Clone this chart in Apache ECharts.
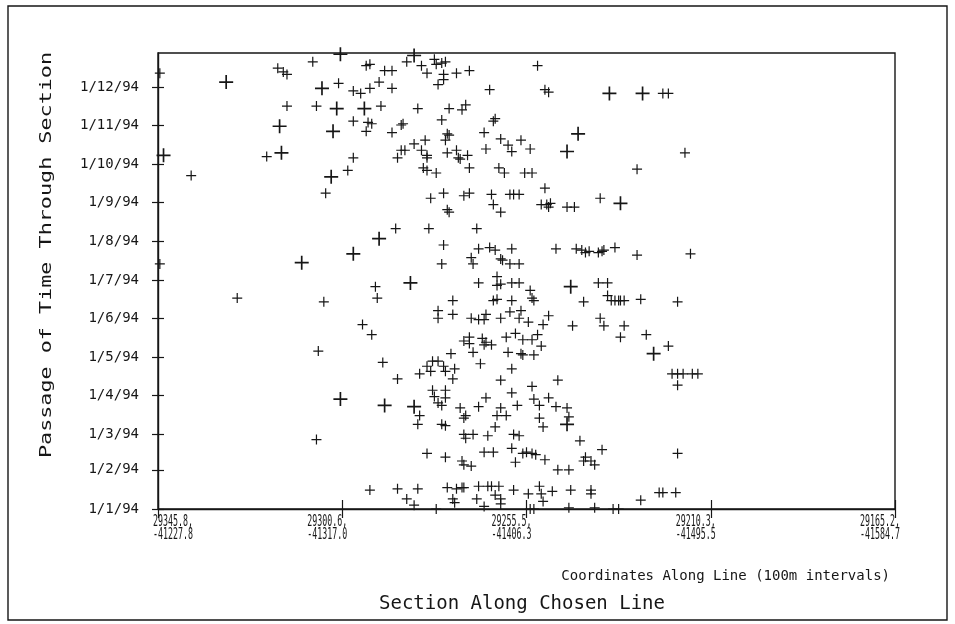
<!DOCTYPE html>
<html>
<head>
<meta charset="utf-8">
<script src="https://cdn.jsdelivr.net/npm/echarts@6/dist/echarts.min.js"></script>
<style>
  html, body { margin: 0; padding: 0; background: #ffffff; }
  #chart { width: 955px; height: 624px; }
</style>
</head>
<body>
<div id="chart"></div>
<script>
// Grid coordinates of each 100 m station along the chosen line
const distanceTicks = [0, 100, 200, 300, 400];
const eastings  = ['29345.8', '29300.6', '29255.5', '29210.3', '29165.2'];
const northings = ['-41227.8', '-41317.0', '-41406.3', '-41495.5', '-41584.7'];

// First day of each month in 1994 (day of year) and its label
const monthStartDays = [0, 31, 59, 90, 120, 151, 181, 212, 243, 273, 304, 334];
const monthLabels = ['1/1/94', '1/2/94', '1/3/94', '1/4/94', '1/5/94', '1/6/94',
                     '1/7/94', '1/8/94', '1/9/94', '1/10/94', '1/11/94', '1/12/94'];
const lastDay = 361;

// Observations: [distance along line (m), day of year 1994]
const crossesSmall = [
  [1,345],[65,349],[68,346],[70,344],[84,354],[113,351],[115,352],[123,347],[127,347],
  [98,337],[106,331],[110,329],[115,333],[120,338],[127,333],[70,319],[86,319],[121,319],
  [106,307],[114,306],[116,305],[113,299],[127,298],[59,279],[18,264],[106,278],[130,278],
  [103,268],[91,250],[129,222],[1,194],
  [135,354],[143,351],[146,345],[150,356],[151,352],[154,353],[156,354],[155,344],[162,345],
  [169,347],[152,336],[155,340],[206,351],[180,332],[210,332],[212,330],[274,329],[277,329],
  [141,317],[158,317],[165,316],[167,320],[154,308],[132,304],[133,305],[182,307],[183,309],
  [177,298],[157,297],[158,296],[156,292],[186,293],[190,288],[192,283],[197,292],[202,285],
  [145,292],[139,289],[132,284],[134,284],[143,284],[146,278],[146,280],[157,282],[162,284],
  [164,277],[163,278],[168,280],[178,285],[169,270],[144,270],[146,268],[151,266],[185,270],
  [188,266],[199,266],[203,266],[260,269],[148,246],[155,250],[166,248],[169,250],[181,249],
  [182,241],[186,235],[191,249],[193,249],[196,249],[210,254],[208,241],[211,241],[213,242],
  [212,239],[222,239],[226,239],[240,246],[157,237],[158,235],[147,222],[173,222],[155,209],
  [154,194],[170,199],[171,194],[174,206],[180,207],[183,205],[186,198],[187,197],[191,194],
  [196,194],[192,206],[216,206],[227,206],[230,205],[232,203],[234,204],[239,203],[241,204],
  [242,205],[248,207],[260,201],[286,282],[289,202],
  [43,167],[90,164],[118,176],[119,167],[111,146],[116,138],[87,125],[122,116],[130,103],
  [86,55],[115,15],[130,16],
  [174,179],[184,184],[184,177],[186,178],[192,179],[196,179],[202,173],[204,165],[203,167],
  [239,179],[244,179],[244,169],[246,165],[248,165],[250,165],[251,165],[253,165],[262,166],
  [231,164],[160,165],[182,165],[184,166],[192,165],[152,157],[152,151],[160,154],[170,151],
  [174,150],[177,150],[178,154],[186,151],[191,156],[197,157],[196,151],[201,148],[212,153],
  [209,146],[225,145],[240,151],[242,145],[253,145],[251,136],[265,138],[166,133],[169,136],
  [169,131],[176,135],[178,132],[177,130],[181,130],[189,136],[194,139],[198,134],[203,134],
  [206,138],[208,129],[159,123],[171,124],[190,124],[198,122],[197,123],[204,122],[175,115],
  [192,111],[149,117],[146,113],[142,107],[148,109],[152,117],[155,113],[156,109],[161,111],
  [160,103],[186,102],[217,102],[203,97],[192,92],[178,88],[149,94],[150,89],[156,94],
  [156,88],[152,84],[154,82],[204,87],[207,82],[212,88],[195,82],[142,74],[141,67],
  [164,80],[167,74],[166,72],[174,81],[184,74],[186,80],[189,74],[183,65],[207,72],
  [209,65],[216,81],[222,80],[223,73],[154,67],[156,66],[166,59],[167,56],[171,59],
  [179,58],[193,59],[196,58],[229,54],[177,45],[182,45],[192,48],[146,44],[156,41],
  [198,44],[200,45],[203,44],[205,43],[210,39],[194,37],[165,38],[166,35],[170,34],
  [217,31],[223,31],[232,41],[231,38],[235,38],[237,35],[241,47],
  [141,16],[135,8],[139,3],[151,0],[157,17],[162,16],[165,17],[166,17],[160,8],
  [161,5],[173,8],[177,2],[174,18],[179,18],[181,18],[185,18],[183,11],[186,8],
  [186,4],[193,15],[201,12],[207,18],[208,12],[209,6],[202,0],[204,0],[214,14],
  [224,15],[235,15],[235,12],[223,1],[237,1],[247,0],[250,0],[262,7],
  [282,164],[277,129],[279,107],[282,107],[285,107],[290,107],[293,107],[282,98],[282,44],
  [272,13],[274,13],[281,13]
];

const crossesLarge = [
  [37,338],[99,360],[89,333],[97,317],[112,317],[66,303],[95,299],[67,282],[3,280],
  [94,263],[120,214],[106,202],[78,195],[139,359],[245,329],[263,329],[228,297],[222,283],
  [251,242],[99,87],[123,82],[137,179],[224,176],[139,81],[222,67],[269,123]
];

// Thin plus-shaped marker
const CROSS = 'path://M8.8,0H11.2V8.8H20V11.2H11.2V20H8.8V11.2H0V8.8H8.8Z';
const INK = '#161616';
const MONO = '"DejaVu Sans Mono", "Liberation Mono", monospace';

const chart = echarts.init(document.getElementById('chart'), null, { renderer: 'canvas' });

chart.setOption({
  animation: false,
  backgroundColor: '#ffffff',
  grid: {
    left: 158, top: 53, width: 737, height: 456,
    show: true, borderColor: INK, borderWidth: 1.4, backgroundColor: 'transparent'
  },
  xAxis: [
    {
      type: 'value', min: 0, max: 400, interval: 100, position: 'bottom',
      axisLine: { onZero: false, lineStyle: { color: INK, width: 1.4 } },
      axisTick: { length: 9, lineStyle: { color: INK, width: 1.2 } },
      splitLine: { show: false },
      axisLabel: { show: false }
    },
    {
      type: 'value', min: 0, max: 400, interval: 100, position: 'bottom', offset: 0,
      axisLine: { show: false },
      axisTick: { inside: true, length: 9, lineStyle: { color: INK, width: 1.2 } },
      axisLabel: { show: false },
      splitLine: { show: false }
    }
  ],
  yAxis: [
    {
      type: 'value', min: 0, max: lastDay, position: 'left',
      axisLine: { onZero: false, lineStyle: { color: INK, width: 1.4 } },
      axisTick: { customValues: monthStartDays, length: 6, lineStyle: { color: INK, width: 1.2 } },
      splitLine: { show: false },
      axisLabel: {
        customValues: monthStartDays, margin: 19, color: INK, fontFamily: MONO, fontSize: 14,
        formatter: v => {
          const i = monthStartDays.indexOf(v);
          return i < 0 ? '' : monthLabels[i];
        }
      }
    },
    {
      type: 'value', min: 0, max: lastDay, position: 'left', offset: 0,
      axisLine: { show: false },
      axisTick: { customValues: monthStartDays, inside: true, length: 6, lineStyle: { color: INK, width: 1.2 } },
      axisLabel: { show: false },
      splitLine: { show: false }
    }
  ],
  series: [
    {
      type: 'scatter', xAxisIndex: 0, yAxisIndex: 0, data: crossesSmall,
      symbol: CROSS, symbolSize: 10, itemStyle: { color: INK, opacity: 1 }, silent: true
    },
    {
      type: 'scatter', xAxisIndex: 0, yAxisIndex: 0, data: crossesLarge,
      symbol: CROSS, symbolSize: 14, itemStyle: { color: INK, opacity: 1 }, silent: true
    }
  ]
});

// Station labels: narrow two-line coordinate pairs hung under each tick.
// The first sits to the right of its tick, the rest end just past theirs.
const stationLabels = distanceTicks.map((v, i) => {
  const px = chart.convertToPixel({ xAxisIndex: 0 }, v);
  return {
    type: 'text', id: 'station' + i,
    x: i === 0 ? px - 5 : px + 5, y: 515, scaleX: 0.52,
    style: {
      text: eastings[i] + ',\n' + northings[i], font: '16px ' + MONO, lineHeight: 13,
      fill: INK, align: i === 0 ? 'left' : 'right', verticalAlign: 'top'
    }
  };
});

chart.setOption({
  graphic: [
    {
      type: 'rect', id: 'frame', z: -10,
      shape: { x: 8, y: 6, width: 939, height: 614 },
      style: { fill: 'none', stroke: INK, lineWidth: 1.4 }
    },
    {
      type: 'text', id: 'yName', x: 47, y: 255, rotation: Math.PI / 2, scaleX: 1.36,
      style: {
        text: 'Passage of Time Through Section', font: '16px ' + MONO,
        fill: INK, align: 'center', verticalAlign: 'middle'
      }
    },
    {
      type: 'text', id: 'xName', x: 890, y: 576,
      style: {
        text: 'Coordinates Along Line (100m intervals)', font: '14px ' + MONO,
        fill: INK, align: 'right', verticalAlign: 'middle'
      }
    },
    {
      type: 'text', id: 'title', x: 522, y: 604,
      style: {
        text: 'Section Along Chosen Line', font: '19px ' + MONO,
        fill: INK, align: 'center', verticalAlign: 'middle'
      }
    }
  ].concat(stationLabels)
});
</script>
</body>
</html>
